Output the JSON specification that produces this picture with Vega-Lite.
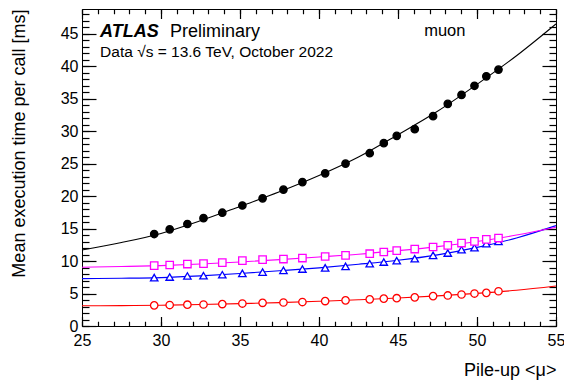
{
  "$schema": "https://vega.github.io/schema/vega-lite/v6.json",
  "width": 474,
  "height": 317,
  "padding": {"left": 9, "top": 8, "right": 0, "bottom": 2},
  "background": "white",
  "config": {"view": {"stroke": null}},
  "datasets": {
    "points": [
      {"series": "Fast tracking", "mu": 29.57, "t": 14.16},
      {"series": "Fast tracking", "mu": 30.55, "t": 14.88},
      {"series": "Fast tracking", "mu": 31.67, "t": 15.70},
      {"series": "Fast tracking", "mu": 32.69, "t": 16.6},
      {"series": "Fast tracking", "mu": 33.88, "t": 17.44},
      {"series": "Fast tracking", "mu": 35.15, "t": 18.55},
      {"series": "Fast tracking", "mu": 36.43, "t": 19.65},
      {"series": "Fast tracking", "mu": 37.75, "t": 21.0},
      {"series": "Fast tracking", "mu": 38.95, "t": 22.15},
      {"series": "Fast tracking", "mu": 40.39, "t": 23.5},
      {"series": "Fast tracking", "mu": 41.68, "t": 25.0},
      {"series": "Fast tracking", "mu": 43.21, "t": 26.6},
      {"series": "Fast tracking", "mu": 44.10, "t": 28.15},
      {"series": "Fast tracking", "mu": 44.92, "t": 29.27},
      {"series": "Fast tracking", "mu": 46.06, "t": 30.3},
      {"series": "Fast tracking", "mu": 47.22, "t": 32.3},
      {"series": "Fast tracking", "mu": 48.15, "t": 34.2},
      {"series": "Fast tracking", "mu": 49.02, "t": 35.57},
      {"series": "Fast tracking", "mu": 49.84, "t": 36.98},
      {"series": "Fast tracking", "mu": 50.59, "t": 38.44},
      {"series": "Fast tracking", "mu": 51.36, "t": 39.47},
      {"series": "Precision tracking", "mu": 29.57, "t": 3.18},
      {"series": "Precision tracking", "mu": 30.55, "t": 3.23},
      {"series": "Precision tracking", "mu": 31.67, "t": 3.28},
      {"series": "Precision tracking", "mu": 32.69, "t": 3.31},
      {"series": "Precision tracking", "mu": 33.88, "t": 3.38},
      {"series": "Precision tracking", "mu": 35.15, "t": 3.46},
      {"series": "Precision tracking", "mu": 36.43, "t": 3.57},
      {"series": "Precision tracking", "mu": 37.75, "t": 3.62},
      {"series": "Precision tracking", "mu": 38.95, "t": 3.69},
      {"series": "Precision tracking", "mu": 40.39, "t": 3.84},
      {"series": "Precision tracking", "mu": 41.68, "t": 3.95},
      {"series": "Precision tracking", "mu": 43.21, "t": 4.1},
      {"series": "Precision tracking", "mu": 44.10, "t": 4.22},
      {"series": "Precision tracking", "mu": 44.92, "t": 4.28},
      {"series": "Precision tracking", "mu": 46.06, "t": 4.41},
      {"series": "Precision tracking", "mu": 47.22, "t": 4.6},
      {"series": "Precision tracking", "mu": 48.15, "t": 4.7},
      {"series": "Precision tracking", "mu": 49.02, "t": 4.85},
      {"series": "Precision tracking", "mu": 49.84, "t": 5.0},
      {"series": "Precision tracking", "mu": 50.59, "t": 5.1},
      {"series": "Precision tracking", "mu": 51.36, "t": 5.35},
      {"series": "Total Si data preparation", "mu": 29.57, "t": 7.45},
      {"series": "Total Si data preparation", "mu": 30.55, "t": 7.54},
      {"series": "Total Si data preparation", "mu": 31.67, "t": 7.7},
      {"series": "Total Si data preparation", "mu": 32.69, "t": 7.75},
      {"series": "Total Si data preparation", "mu": 33.88, "t": 7.9},
      {"series": "Total Si data preparation", "mu": 35.15, "t": 8.1},
      {"series": "Total Si data preparation", "mu": 36.43, "t": 8.3},
      {"series": "Total Si data preparation", "mu": 37.75, "t": 8.57},
      {"series": "Total Si data preparation", "mu": 38.95, "t": 8.77},
      {"series": "Total Si data preparation", "mu": 40.39, "t": 8.95},
      {"series": "Total Si data preparation", "mu": 41.68, "t": 9.18},
      {"series": "Total Si data preparation", "mu": 43.21, "t": 9.6},
      {"series": "Total Si data preparation", "mu": 44.10, "t": 9.85},
      {"series": "Total Si data preparation", "mu": 44.92, "t": 10.06},
      {"series": "Total Si data preparation", "mu": 46.06, "t": 10.37},
      {"series": "Total Si data preparation", "mu": 47.22, "t": 10.88},
      {"series": "Total Si data preparation", "mu": 48.15, "t": 11.23},
      {"series": "Total Si data preparation", "mu": 49.02, "t": 11.75},
      {"series": "Total Si data preparation", "mu": 49.84, "t": 12.06},
      {"series": "Total Si data preparation", "mu": 50.59, "t": 12.68},
      {"series": "Total Si data preparation", "mu": 51.36, "t": 13.03},
      {"series": "Total TRT extension", "mu": 29.57, "t": 9.29},
      {"series": "Total TRT extension", "mu": 30.55, "t": 9.39},
      {"series": "Total TRT extension", "mu": 31.67, "t": 9.54},
      {"series": "Total TRT extension", "mu": 32.69, "t": 9.6},
      {"series": "Total TRT extension", "mu": 33.88, "t": 9.75},
      {"series": "Total TRT extension", "mu": 35.15, "t": 10.06},
      {"series": "Total TRT extension", "mu": 36.43, "t": 10.21},
      {"series": "Total TRT extension", "mu": 37.75, "t": 10.31},
      {"series": "Total TRT extension", "mu": 38.95, "t": 10.46},
      {"series": "Total TRT extension", "mu": 40.39, "t": 10.7},
      {"series": "Total TRT extension", "mu": 41.68, "t": 10.88},
      {"series": "Total TRT extension", "mu": 43.21, "t": 11.13},
      {"series": "Total TRT extension", "mu": 44.10, "t": 11.39},
      {"series": "Total TRT extension", "mu": 44.92, "t": 11.6},
      {"series": "Total TRT extension", "mu": 46.06, "t": 11.85},
      {"series": "Total TRT extension", "mu": 47.22, "t": 12.16},
      {"series": "Total TRT extension", "mu": 48.15, "t": 12.42},
      {"series": "Total TRT extension", "mu": 49.02, "t": 12.77},
      {"series": "Total TRT extension", "mu": 49.84, "t": 13.03},
      {"series": "Total TRT extension", "mu": 50.59, "t": 13.34},
      {"series": "Total TRT extension", "mu": 51.36, "t": 13.54}
    ],
    "fits": [
      {"series": "Fast tracking", "mu": 25, "t": 11.7},
      {"series": "Fast tracking", "mu": 27.5, "t": 12.85},
      {"series": "Fast tracking", "mu": 30, "t": 14.25},
      {"series": "Fast tracking", "mu": 32.5, "t": 16.2},
      {"series": "Fast tracking", "mu": 35, "t": 18.4},
      {"series": "Fast tracking", "mu": 37.5, "t": 20.65},
      {"series": "Fast tracking", "mu": 40, "t": 23.15},
      {"series": "Fast tracking", "mu": 42.5, "t": 26.0},
      {"series": "Fast tracking", "mu": 45, "t": 29.45},
      {"series": "Fast tracking", "mu": 47.5, "t": 33.05},
      {"series": "Fast tracking", "mu": 50, "t": 37.2},
      {"series": "Fast tracking", "mu": 52.5, "t": 41.6},
      {"series": "Fast tracking", "mu": 55, "t": 46.5},
      {"series": "Precision tracking", "mu": 25, "t": 3.12},
      {"series": "Precision tracking", "mu": 27.5, "t": 3.14},
      {"series": "Precision tracking", "mu": 30, "t": 3.2},
      {"series": "Precision tracking", "mu": 32.5, "t": 3.3},
      {"series": "Precision tracking", "mu": 35, "t": 3.44},
      {"series": "Precision tracking", "mu": 37.5, "t": 3.6},
      {"series": "Precision tracking", "mu": 40, "t": 3.8},
      {"series": "Precision tracking", "mu": 42.5, "t": 4.03},
      {"series": "Precision tracking", "mu": 45, "t": 4.3},
      {"series": "Precision tracking", "mu": 47.5, "t": 4.63},
      {"series": "Precision tracking", "mu": 50, "t": 5.02},
      {"series": "Precision tracking", "mu": 52.5, "t": 5.5},
      {"series": "Precision tracking", "mu": 55, "t": 6.15},
      {"series": "Total Si data preparation", "mu": 25, "t": 7.3},
      {"series": "Total Si data preparation", "mu": 27.5, "t": 7.35},
      {"series": "Total Si data preparation", "mu": 30, "t": 7.45},
      {"series": "Total Si data preparation", "mu": 32.5, "t": 7.72},
      {"series": "Total Si data preparation", "mu": 35, "t": 8.08},
      {"series": "Total Si data preparation", "mu": 37.5, "t": 8.5},
      {"series": "Total Si data preparation", "mu": 40, "t": 8.95},
      {"series": "Total Si data preparation", "mu": 42.5, "t": 9.5},
      {"series": "Total Si data preparation", "mu": 45, "t": 10.12},
      {"series": "Total Si data preparation", "mu": 47.5, "t": 10.95},
      {"series": "Total Si data preparation", "mu": 50, "t": 12.1},
      {"series": "Total Si data preparation", "mu": 52.5, "t": 13.55},
      {"series": "Total Si data preparation", "mu": 55, "t": 15.45},
      {"series": "Total TRT extension", "mu": 25, "t": 9.05},
      {"series": "Total TRT extension", "mu": 27.5, "t": 9.15},
      {"series": "Total TRT extension", "mu": 30, "t": 9.3},
      {"series": "Total TRT extension", "mu": 32.5, "t": 9.55},
      {"series": "Total TRT extension", "mu": 35, "t": 9.86},
      {"series": "Total TRT extension", "mu": 37.5, "t": 10.22},
      {"series": "Total TRT extension", "mu": 40, "t": 10.62},
      {"series": "Total TRT extension", "mu": 42.5, "t": 11.05},
      {"series": "Total TRT extension", "mu": 45, "t": 11.6},
      {"series": "Total TRT extension", "mu": 47.5, "t": 12.22},
      {"series": "Total TRT extension", "mu": 50, "t": 13.0},
      {"series": "Total TRT extension", "mu": 52.5, "t": 14.0},
      {"series": "Total TRT extension", "mu": 55, "t": 15.2}
    ]
  },
  "layer": [
    {
      "data": {"name": "fits"},
      "mark": {"type": "line", "strokeWidth": 1.1, "interpolate": "monotone"},
      "encoding": {
        "x": {"field": "mu", "type": "quantitative",
          "scale": {"domain": [25, 55], "nice": false, "zero": false},
          "axis": {"orient": "bottom", "gridOpacity": 0, "domain": true, "domainColor": "black", "domainWidth": 1, "ticks": true, "tickSize": -9.5, "tickColor": "#000000", "tickWidth": 1.2,
            "values": [25, 30, 35, 40, 45, 50, 55], "labelPadding": 15.5, "labelFlush": false, "labelOverlap": false,
            "labelFont": "Liberation Sans", "labelFontSize": 16, "labelColor": "black",
            "title": "Pile-up <μ>", "titleFont": "Liberation Sans", "titleFontSize": 18, "titleFontWeight": "normal", "titleColor": "black",
            "titleX": 474, "titleY": 44, "titleAlign": "right", "titleBaseline": "middle"}},
        "y": {"field": "t", "type": "quantitative",
          "scale": {"domain": [0, 48.8], "nice": false, "zero": false},
          "axis": {"orient": "left", "gridOpacity": 0, "domain": true, "domainColor": "black", "domainWidth": 1, "ticks": true, "tickSize": -14, "tickColor": "#000000", "tickWidth": 1.2,
            "values": [0, 5, 10, 15, 20, 25, 30, 35, 40, 45], "labelPadding": 18, "labelFlush": false, "labelOverlap": false,
            "labelFont": "Liberation Sans", "labelFontSize": 16, "labelColor": "black",
            "title": "Mean execution time per call [ms]", "titleFont": "Liberation Sans", "titleFontSize": 18, "titleFontWeight": "normal", "titleColor": "black",
            "titleX": -63, "titleY": 0, "titleAngle": -90, "titleAlign": "right", "titleBaseline": "middle"}},
        "color": {"field": "series", "type": "nominal", "legend": null,
          "scale": {"domain": ["Fast tracking", "Precision tracking", "Total Si data preparation", "Total TRT extension"],
            "range": ["#000000", "#ff0000", "#0000ff", "#ff00ff"]}}
      }
    },
    {
      "data": {"name": "points"},
      "mark": {"type": "point", "size": 55, "strokeWidth": 1.3, "opacity": 1},
      "encoding": {
        "x": {"field": "mu", "type": "quantitative",
          "scale": {"domain": [25, 55], "nice": false, "zero": false},
          "axis": {"orient": "top", "gridOpacity": 0, "domain": true, "domainColor": "black", "domainWidth": 1, "labels": false, "ticks": true, "tickSize": -9.5, "tickColor": "#000000", "tickWidth": 1.2,
            "values": [25, 30, 35, 40, 45, 50, 55],
            "title": "ATLAS", "titleFont": "Liberation Sans", "titleFontSize": 18, "titleFontWeight": "bold", "titleFontStyle": "italic", "titleColor": "black",
            "titleX": 17.6, "titleY": 27.7, "titleAngle": 0, "titleAlign": "left", "titleBaseline": "alphabetic"}},
        "y": {"field": "t", "type": "quantitative",
          "scale": {"domain": [0, 48.8], "nice": false, "zero": false},
          "axis": {"orient": "right", "gridOpacity": 0, "domain": true, "domainColor": "black", "domainWidth": 1, "labels": false, "ticks": true, "tickSize": -14, "tickColor": "#000000", "tickWidth": 1.2,
            "values": [0, 5, 10, 15, 20, 25, 30, 35, 40, 45],
            "title": "muon", "titleFont": "Liberation Sans", "titleFontSize": 16.5, "titleFontWeight": "normal", "titleColor": "black",
            "titleX": -111.7, "titleY": 26, "titleAngle": 0, "titleAlign": "center", "titleBaseline": "alphabetic"}},
        "fill": {"condition": {"test": "datum.series === 'Fast tracking'", "value": "#000000"}, "value": "#ffffff"},
        "shape": {"field": "series", "type": "nominal",
          "scale": {"domain": ["Fast tracking", "Precision tracking", "Total Si data preparation", "Total TRT extension"],
            "range": ["circle", "circle", "triangle-up", "square"]},
          "legend": {"orient": "none", "legendX": 18.6, "legendY": 54, "title": null, "labelFontSize": 15, "labelFont": "Liberation Sans", "labelColor": "black", "symbolSize": 55, "symbolStrokeWidth": 1.3, "labelOffset": 22, "rowPadding": 5,
            "encode": {"symbols": {"update": {"fill": {"signal": "datum.value === 'Fast tracking' ? '#000000' : '#ffffff'"}}}}}},
        "stroke": {"field": "series", "type": "nominal",
          "scale": {"domain": ["Fast tracking", "Precision tracking", "Total Si data preparation", "Total TRT extension"],
            "range": ["#000000", "#ff0000", "#0000ff", "#ff00ff"]},
          "legend": {"orient": "none", "legendX": 18.6, "legendY": 54, "title": null, "labelFontSize": 15, "labelFont": "Liberation Sans", "labelColor": "black", "symbolSize": 55, "symbolStrokeWidth": 1.3, "labelOffset": 22, "rowPadding": 5,
            "encode": {"symbols": {"update": {"fill": {"signal": "datum.value === 'Fast tracking' ? '#000000' : '#ffffff'"}}}}}}
      }
    },
    {
      "data": {"name": "fits"},
      "mark": {"type": "line", "strokeOpacity": 0},
      "encoding": {
        "detail": {"field": "series", "type": "nominal"},
        "x": {"field": "mu", "type": "quantitative",
          "scale": {"domain": [25, 55], "nice": false, "zero": false},
          "axis": {"orient": "bottom", "gridOpacity": 0, "domain": false, "labels": false, "ticks": true, "tickSize": -4.75, "tickColor": "#000000", "tickWidth": 1.2,
            "values": [25, 26, 27, 28, 29, 30, 31, 32, 33, 34, 35, 36, 37, 38, 39, 40, 41, 42, 43, 44, 45, 46, 47, 48, 49, 50, 51, 52, 53, 54, 55],
            "title": "Preliminary", "titleFont": "Liberation Sans", "titleFontSize": 18, "titleFontWeight": "normal", "titleColor": "black",
            "titleX": 87.6, "titleY": -289.3, "titleAngle": 0, "titleAlign": "left", "titleBaseline": "alphabetic"}},
        "y": {"field": "t", "type": "quantitative",
          "scale": {"domain": [0, 48.8], "nice": false, "zero": false},
          "axis": {"orient": "left", "gridOpacity": 0, "domain": false, "labels": false, "ticks": true, "tickSize": -7, "tickColor": "#000000", "tickWidth": 1.2,
            "values": [0, 1, 2, 3, 4, 5, 6, 7, 8, 9, 10, 11, 12, 13, 14, 15, 16, 17, 18, 19, 20, 21, 22, 23, 24, 25, 26, 27, 28, 29, 30, 31, 32, 33, 34, 35, 36, 37, 38, 39, 40, 41, 42, 43, 44, 45, 46, 47, 48],
            "title": "Data √s = 13.6 TeV, October 2022", "titleFont": "Liberation Sans", "titleFontSize": 15.5, "titleFontWeight": "normal", "titleColor": "black",
            "titleX": 17.6, "titleY": 47.7, "titleAngle": 0, "titleAlign": "left", "titleBaseline": "alphabetic"}}
      }
    },
    {
      "data": {"name": "fits"},
      "mark": {"type": "line", "strokeOpacity": 0},
      "encoding": {
        "detail": {"field": "series", "type": "nominal"},
        "x": {"field": "mu", "type": "quantitative",
          "scale": {"domain": [25, 55], "nice": false, "zero": false},
          "axis": {"orient": "top", "gridOpacity": 0, "domain": false, "labels": false, "ticks": true, "tickSize": -4.75, "tickColor": "#000000", "tickWidth": 1.2, "title": null,
            "values": [25, 26, 27, 28, 29, 30, 31, 32, 33, 34, 35, 36, 37, 38, 39, 40, 41, 42, 43, 44, 45, 46, 47, 48, 49, 50, 51, 52, 53, 54, 55]}},
        "y": {"field": "t", "type": "quantitative",
          "scale": {"domain": [0, 48.8], "nice": false, "zero": false},
          "axis": {"orient": "right", "gridOpacity": 0, "domain": false, "labels": false, "ticks": true, "tickSize": -7, "tickColor": "#000000", "tickWidth": 1.2, "title": null,
            "values": [0, 1, 2, 3, 4, 5, 6, 7, 8, 9, 10, 11, 12, 13, 14, 15, 16, 17, 18, 19, 20, 21, 22, 23, 24, 25, 26, 27, 28, 29, 30, 31, 32, 33, 34, 35, 36, 37, 38, 39, 40, 41, 42, 43, 44, 45, 46, 47, 48]}}
      }
    }
  ],
  "resolve": {"axis": {"x": "independent", "y": "independent"}}
}
